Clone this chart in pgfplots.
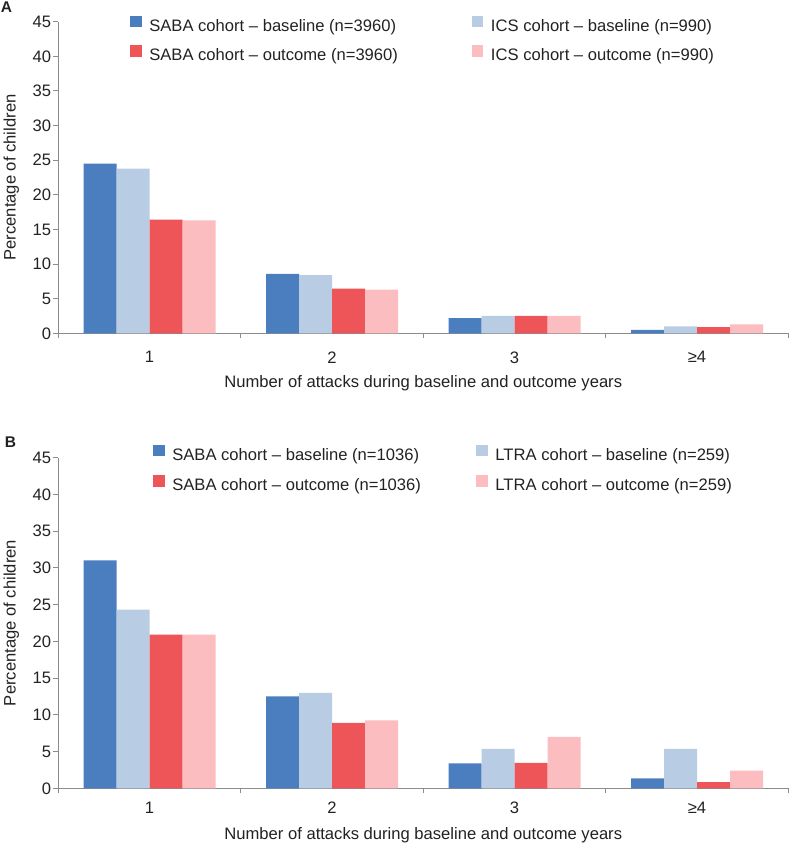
\documentclass[border=0pt]{standalone}
\usepackage{pgfplots}
\usepackage{pgfplotstable}
\pgfplotsset{compat=1.18}
\usepackage{fontspec}
\setmainfont{Liberation Sans}
\definecolor{c1}{HTML}{4A7EBF}
\definecolor{c2}{HTML}{B8CCE4}
\definecolor{c3}{HTML}{EE5559}
\definecolor{c4}{HTML}{FBBDC0}
\definecolor{axgray}{HTML}{8C8C8C}
\definecolor{txt}{HTML}{222222}

\pgfplotstableread{
x sabab icsb sabao icso
1 24.5 23.8 16.4 16.3
2 8.6 8.4 6.45 6.3
3 2.2 2.5 2.5 2.5
4 0.5 1.0 0.9 1.3
}\dataA

\pgfplotstableread{
x sabab ltrab sabao ltrao
1 31.0 24.3 20.9 20.9
2 12.5 13.0 8.9 9.25
3 3.4 5.35 3.45 7.0
4 1.35 5.35 0.85 2.4
}\dataB

\pgfplotsset{
 panel/.style={
  scale only axis, width=730pt,
  xmin=0.5, xmax=4.5, ymin=0, ymax=45,
  ytick={0,5,...,45},
  xtick={0.5,1.5,2.5,3.5,4.5}, xticklabels={},
  extra x ticks={1,2,3,4},
  extra x tick labels={1,2,3,≥4},
  extra x tick style={major tick length=0pt},
  axis lines=left, axis line style={-, draw=axgray, line width=0.9pt},
  tick style={draw=axgray, line width=0.9pt},
  major tick length=5pt, tick align=outside,
  ybar=0pt, bar width=33pt,
  legend image code/.code={\fill[#1, draw=none] (0pt,0pt) rectangle (11.5pt,11.5pt);},
  legend columns=2,
  tick label style={text=txt},
  label style={text=txt},
  yticklabel style={inner xsep=2pt},
  /pgf/number format/assume math mode=true,
 }
}

\begin{document}
\fontsize{16.6}{19}\selectfont
\begin{tikzpicture}[x=1pt,y=1pt]
\useasboundingbox (0,0) rectangle (790,-844);
\node[font=\fontsize{15.5}{15.5}\selectfont\bfseries, text=txt] at (6.5,-7.5) {A};
\node[font=\fontsize{15.5}{15.5}\selectfont\bfseries, text=txt] at (10.5,-442) {B};

\begin{axis}[panel, at={(58.3pt,-333.3pt)}, anchor=south west, height=311.6pt,
  xlabel={Number of attacks during baseline and outcome years},
  ylabel={Percentage of children},
  xlabel style={at={(axis description cs:0.5,-0.1605)}, anchor=center},
  ylabel style={at={(axis description cs:-0.0644,0.5)}, anchor=center},
  extra x tick style={tick label style={yshift=-12.5pt}},
  legend style={draw=none, fill=none, inner sep=0pt, outer sep=0pt,
    at={(0,1)}, anchor=north west, xshift=72pt, yshift=6pt,
    row sep=10pt, text=txt,
    nodes={inner sep=0pt, text height=12pt, text depth=4pt},
    cells={anchor=west},
    /tikz/every odd column/.append style={column sep=7.5pt},
    /tikz/every even column/.append style={column sep=74pt}},
]
\addplot[fill=c1, draw=none] table[x=x, y=sabab] {\dataA};
\addlegendentry{SABA cohort – baseline (n=3960)}
\addplot[fill=c2, draw=none] table[x=x, y=icsb] {\dataA};
\addlegendentry{ICS cohort – baseline (n=990)}
\addplot[fill=c3, draw=none] table[x=x, y=sabao] {\dataA};
\addlegendentry{SABA cohort – outcome (n=3960)}
\addplot[fill=c4, draw=none] table[x=x, y=icso] {\dataA};
\addlegendentry{ICS cohort – outcome (n=990)}
\end{axis}

\begin{axis}[panel, at={(58.3pt,-788.3pt)}, anchor=south west, height=330.7pt,
  xlabel={Number of attacks during baseline and outcome years},
  ylabel={Percentage of children},
  xlabel style={at={(axis description cs:0.5,-0.1421)}, anchor=center},
  ylabel style={at={(axis description cs:-0.0644,0.5)}, anchor=center},
  extra x tick style={tick label style={yshift=-8pt}},
  legend style={draw=none, fill=none, inner sep=0pt, outer sep=0pt,
    at={(0,1)}, anchor=north west, xshift=95pt, yshift=13pt,
    row sep=11pt, text=txt,
    nodes={inner sep=0pt, text height=12pt, text depth=4pt},
    cells={anchor=west},
    /tikz/every odd column/.append style={column sep=7.5pt},
    /tikz/every even column/.append style={column sep=55.5pt}},
]
\addplot[fill=c1, draw=none] table[x=x, y=sabab] {\dataB};
\addlegendentry{SABA cohort – baseline (n=1036)}
\addplot[fill=c2, draw=none] table[x=x, y=ltrab] {\dataB};
\addlegendentry{LTRA cohort – baseline (n=259)}
\addplot[fill=c3, draw=none] table[x=x, y=sabao] {\dataB};
\addlegendentry{SABA cohort – outcome (n=1036)}
\addplot[fill=c4, draw=none] table[x=x, y=ltrao] {\dataB};
\addlegendentry{LTRA cohort – outcome (n=259)}
\end{axis}
\end{tikzpicture}
\end{document}
